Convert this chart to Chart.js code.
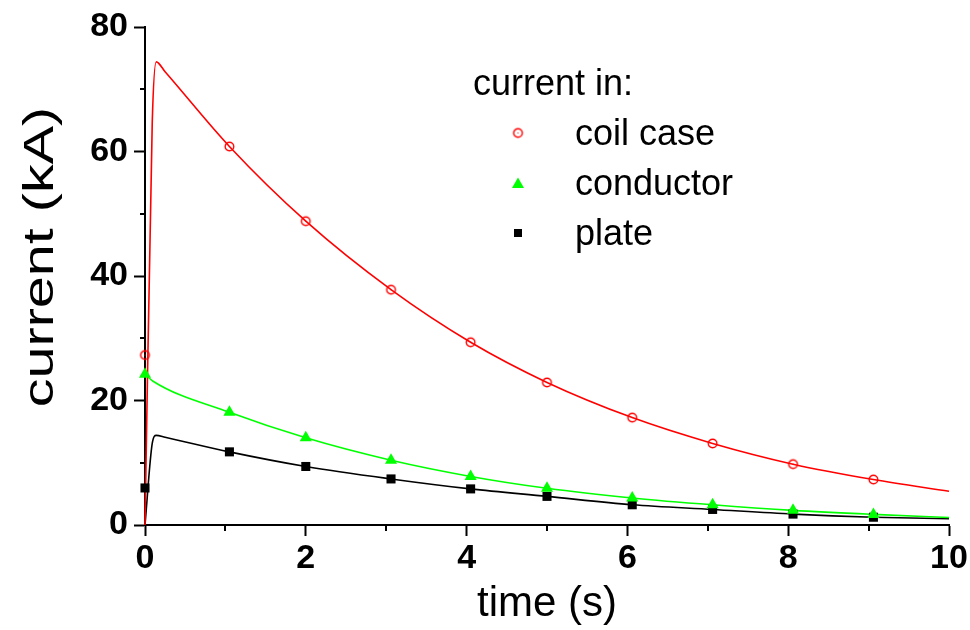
<!DOCTYPE html>
<html>
<head>
<meta charset="utf-8">
<script src="https://cdn.jsdelivr.net/npm/chart.js@4.4.1/dist/chart.umd.min.js"></script>
<style>
  html, body { margin: 0; padding: 0; background: #fff; }
  canvas { display: block; }
</style>
</head>
<body>
<canvas id="myChart" width="970" height="630"></canvas>
<script>
'use strict';
// measured points (s, kA)
const markTimes = [0, 1.05, 2, 3.06, 4.05, 5, 6.06, 7.06, 8.06, 9.06];
const caseMarks = [27.3, 60.8, 48.8, 37.8, 29.35, 22.9, 17.25, 13.1, 9.77, 7.3];
const conductorMarks = [24.2, 18.1, 14.0, 10.4, 7.8, 5.9, 4.35, 3.25, 2.35, 1.7];
const plateMarks = [5.95, 11.75, 9.4, 7.4, 5.8, 4.6, 3.25, 2.5, 1.75, 1.25];

// calculated curves
const lineTimes = [0, 0.09, 0.14, 0.25, 1.05, 2, 3.06, 4.05, 5, 6.06, 7.06, 8.06, 9.06, 10];
const caseLine = [0, 64.6, 74.4, 72.8, 60.8, 48.8, 37.8, 29.35, 22.9, 17.25, 13.1, 9.77, 7.3, 5.43];
const plateLine = [0, 13.1, 14.4, 14.1, 11.75, 9.4, 7.4, 5.8, 4.6, 3.25, 2.5, 1.75, 1.25, 1.0];
const conductorTimes = [0, 0.1, 1.05, 2, 3.06, 4.05, 5, 6.06, 7.06, 8.06, 9.06, 10];
const conductorLine = [24.2, 23.1, 18.1, 14.0, 10.4, 7.8, 5.9, 4.35, 3.25, 2.35, 1.7, 1.2];

const xLabels = [0, 2, 4, 6, 8, 10];
const xMinor = [1, 3, 5, 7, 9];
const yLabels = [0, 20, 40, 60, 80];
const yMinor = [10, 30, 50, 70];

const legendTitle = 'current in:';
const names = ['coil case', 'conductor', 'plate'];
const xTitle = 'time (s)';
const yTitle = 'current (kA)';

const FONT = 'Arial, "Liberation Sans", Helvetica, sans-serif';

function toPoints(xs, ys) {
  let pts = [];
  for (let i = 0; i < xs.length; i++) {
    pts.push({x: xs[i], y: ys[i]});
  }
  return pts;
}

// open circle with a dot in the middle
function ringImage() {
  const c = document.createElement('canvas');
  c.width = 13;
  c.height = 13;
  const g = c.getContext('2d');
  g.strokeStyle = '#ff0000';
  g.lineWidth = 1.4;
  g.beginPath();
  g.arc(6.5, 6.5, 4.3, 0, Math.PI * 2);
  g.stroke();
  g.fillStyle = '#ff0000';
  g.fillRect(6, 6, 1, 1);
  return c;
}
const ring = ringImage();

function markSet(label, data, color, style, radius) {
  return {
    label: label,
    data: data,
    showLine: false,
    pointStyle: style,
    pointRadius: radius,
    pointHoverRadius: radius,
    backgroundColor: color,
    borderColor: color,
    borderWidth: 0,
    clip: false
  };
}

function lineSet(data, color) {
  return {
    data: data,
    showLine: true,
    borderColor: color,
    borderWidth: 1.6,
    pointRadius: 0,
    cubicInterpolationMode: 'monotone',
    fill: false,
    clip: false
  };
}

// small unlabeled ticks + rotated y title + legend
const extras = {
  id: 'extras',
  afterDraw(chart) {
    const ctx = chart.ctx;
    const xs = chart.scales.x;
    const ys = chart.scales.y;
    const area = chart.chartArea;
    ctx.save();
    ctx.strokeStyle = '#000';
    ctx.lineWidth = 2;
    ctx.beginPath();
    for (let i = 0; i < xMinor.length; i++) {
      const px = Math.round(xs.getPixelForValue(xMinor[i]));
      ctx.moveTo(px, area.bottom);
      ctx.lineTo(px, area.bottom + 6);
    }
    for (let i = 0; i < yMinor.length; i++) {
      const py = Math.round(ys.getPixelForValue(yMinor[i]));
      ctx.moveTo(area.left, py);
      ctx.lineTo(area.left - 5, py);
    }
    ctx.stroke();

    // y axis title, drawn a bit wide
    ctx.fillStyle = '#000';
    ctx.font = '42px ' + FONT;
    ctx.textAlign = 'center';
    ctx.textBaseline = 'alphabetic';
    ctx.translate(53, 257);
    ctx.rotate(-Math.PI / 2);
    ctx.scale(1.37, 1);
    ctx.fillText(yTitle, 0, 0);
    ctx.restore();

    // legend
    ctx.save();
    ctx.fillStyle = '#000';
    ctx.font = '36px ' + FONT;
    ctx.textAlign = 'left';
    ctx.textBaseline = 'alphabetic';
    ctx.fillText(legendTitle, 473, 95);
    const rows = [133, 183, 233];
    const mx = 518;
    for (let i = 0; i < names.length; i++) {
      ctx.fillStyle = '#000';
      ctx.fillText(names[i], 575, rows[i] + 12);
    }
    ctx.drawImage(ring, mx - 6.5, rows[0] - 6.5);
    ctx.fillStyle = '#00ff00';
    ctx.beginPath();
    ctx.moveTo(mx, rows[1] - 5.5);
    ctx.lineTo(mx + 6, rows[1] + 5);
    ctx.lineTo(mx - 6, rows[1] + 5);
    ctx.closePath();
    ctx.fill();
    ctx.fillStyle = '#000';
    ctx.fillRect(mx - 4, rows[2] - 4, 8, 8);
    ctx.restore();
  }
};

const ctx = document.getElementById('myChart').getContext('2d');
const chart = new Chart(ctx, {
  type: 'scatter',
  data: {
    datasets: [
      markSet(names[0], toPoints(markTimes, caseMarks), '#ff0000', ring, 6),
      markSet(names[1], toPoints(markTimes, conductorMarks), '#00ff00', 'triangle', 7),
      markSet(names[2], toPoints(markTimes, plateMarks), '#000000', 'rect', 6.4),
      lineSet(toPoints(lineTimes, caseLine), '#ff0000'),
      lineSet(toPoints(conductorTimes, conductorLine), '#00ff00'),
      lineSet(toPoints(lineTimes, plateLine), '#000000')
    ]
  },
  options: {
    responsive: false,
    animation: false,
    devicePixelRatio: 1,
    layout: { padding: { left: 0, right: 21, top: 27, bottom: 0 } },
    plugins: {
      legend: { display: false },
      tooltip: { enabled: false }
    },
    scales: {
      x: {
        type: 'linear',
        min: 0,
        max: 10,
        afterFit(scale) { scale.height = 105; },
        ticks: {
          stepSize: 1,
          autoSkip: false,
          maxRotation: 0,
          padding: 2,
          color: '#000',
          font: { family: FONT, size: 34, weight: 'bold' },
          callback: (v) => xLabels.includes(v) ? v : ''
        },
        grid: {
          drawOnChartArea: false,
          tickLength: 11,
          tickWidth: 2,
          tickColor: (c) => (c.tick && xLabels.includes(c.tick.value)) ? '#000' : 'rgba(0,0,0,0)'
        },
        border: { color: '#000', width: 2 },
        title: {
          display: true,
          text: xTitle,
          color: '#000',
          font: { family: FONT, size: 42 },
          padding: { top: 0, bottom: 0 }
        }
      },
      y: {
        min: 0,
        max: 80,
        afterFit(scale) { scale.width = 145; },
        ticks: {
          stepSize: 10,
          autoSkip: false,
          padding: 6,
          color: '#000',
          font: { family: FONT, size: 34, weight: 'bold' },
          callback: (v) => yLabels.includes(v) ? v : ''
        },
        grid: {
          drawOnChartArea: false,
          tickLength: 11,
          tickWidth: 2,
          tickColor: (c) => (c.tick && yLabels.includes(c.tick.value)) ? '#000' : 'rgba(0,0,0,0)'
        },
        border: { color: '#000', width: 2 }
      }
    }
  },
  plugins: [extras]
});
</script>
</body>
</html>
